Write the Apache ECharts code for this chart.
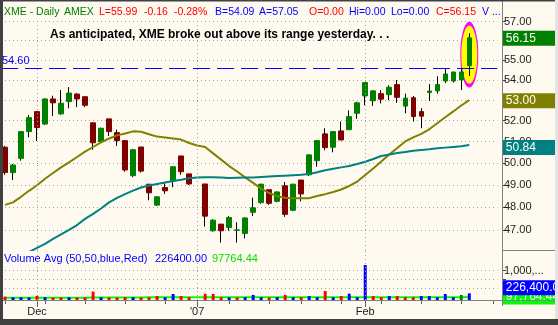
<!DOCTYPE html>
<html><head><meta charset="utf-8">
<script src="https://cdn.jsdelivr.net/npm/echarts@6/dist/echarts.min.js"></script>
<style>html,body{margin:0;padding:0;background:#fffaf0}#c{width:558px;height:325px}</style>
</head><body><div id="c"></div>
<script>
// ---- data ----
const dates = [
'2006-11-27','2006-11-28','2006-11-29','2006-11-30','2006-12-01',
'2006-12-04','2006-12-05','2006-12-06','2006-12-07','2006-12-08',
'2006-12-11','2006-12-12','2006-12-13','2006-12-14','2006-12-15',
'2006-12-18','2006-12-19','2006-12-20','2006-12-21','2006-12-22',
'2006-12-26','2006-12-27','2006-12-28','2006-12-29',
'2007-01-02','2007-01-03','2007-01-04','2007-01-05',
'2007-01-08','2007-01-09','2007-01-10','2007-01-11','2007-01-12',
'2007-01-16','2007-01-17','2007-01-18','2007-01-19',
'2007-01-22','2007-01-23','2007-01-24','2007-01-25','2007-01-26',
'2007-01-29','2007-01-30','2007-01-31',
'2007-02-01','2007-02-02',
'2007-02-05','2007-02-06','2007-02-07','2007-02-08','2007-02-09',
'2007-02-12','2007-02-13','2007-02-14','2007-02-15','2007-02-16',
'2007-02-20','2007-02-21','2007-02-22','2007-02-23','2007-02-26'];

const opens = [50.74,49.56,50.22,51.48,52.44,51.84,53.06,52.33,52.93,53.30,
 53.17,51.90,51.00,52.09,51.43,51.05,49.42,50.75,49.03,48.09,
 48.88,49.17,50.33,49.50,null,49.04,46.96,47.25,47.10,46.98,
 46.84,47.77,48.20,48.78,48.26,48.96,47.86,49.22,49.46,50.11,
 51.37,50.74,51.51,51.57,52.36,53.21,52.97,53.32,53.27,53.77,
 52.71,53.12,52.44,53.38,53.46,53.95,53.95,54.00,54.72];
const closes = [49.56,49.91,51.48,52.15,51.67,53.06,52.87,52.85,53.35,53.06,
 52.75,50.95,51.64,51.48,51.05,49.68,50.62,49.63,48.64,48.46,
 48.73,49.83,49.60,49.04,null,47.60,47.42,46.96,47.54,47.00,
 47.52,47.97,49.03,48.17,48.68,47.68,49.03,48.59,50.38,51.05,
 50.72,51.48,51.08,52.20,52.87,53.87,53.46,53.05,53.64,53.14,
 53.10,52.20,52.22,53.45,53.77,54.30,54.40,54.40,56.15];
const lows = [49.46,49.22,50.11,51.21,51.03,51.80,52.23,52.29,52.60,52.66,
 52.66,50.62,50.95,51.27,50.80,49.60,49.35,49.56,48.31,48.05,
 48.59,48.89,49.46,49.00,null,47.14,46.92,46.45,46.96,46.45,
 46.63,47.60,48.15,48.10,48.22,47.57,47.82,48.26,49.40,49.83,
 50.60,50.50,51.08,51.57,52.09,52.75,52.72,52.84,53.00,52.87,
 52.36,51.96,51.64,52.96,53.32,53.85,53.87,53.50,54.20];
const highs = [50.80,49.95,51.50,52.28,52.46,53.08,53.22,53.50,53.65,53.35,
 53.17,51.90,51.66,52.09,51.57,51.05,50.66,50.75,49.03,48.49,
 49.13,49.85,50.33,49.50,null,49.04,47.47,47.25,47.60,47.33,
 47.55,48.42,49.05,48.78,48.70,49.13,49.05,49.22,50.40,51.08,
 51.64,51.50,51.96,52.50,52.92,53.88,53.48,53.50,53.74,54.00,
 53.32,53.21,52.61,53.80,54.19,54.55,54.42,54.54,56.39];

const sma20 = [48.10,48.21,48.46,48.73,48.98,49.28,49.54,49.80,50.03,50.28,
 50.53,50.75,50.97,51.15,51.30,51.39,51.49,51.47,51.35,51.24,
 51.20,51.15,51.10,50.94,50.82,50.75,50.45,50.16,49.86,49.61,
 49.34,49.09,48.83,48.63,48.49,48.42,48.40,48.40,48.40,48.50,
 48.58,48.68,48.79,48.95,49.15,49.45,49.75,50.07,50.40,50.70,
 51.01,51.20,51.37,51.59,51.88,52.17,52.45,52.74,53.00];
const sma50 = [null,null,null,46.04,46.22,46.39,46.61,46.80,47.00,47.21,
 47.48,47.70,47.94,48.21,48.41,48.58,48.74,48.88,48.97,49.04,
 49.11,49.18,49.23,49.30,49.34,49.35,49.35,49.33,49.31,49.32,
 49.33,49.34,49.36,49.38,49.40,49.42,49.44,49.46,49.50,49.58,
 49.67,49.74,49.80,49.86,49.96,50.06,50.19,50.33,50.40,50.47,
 50.52,50.57,50.61,50.64,50.69,50.72,50.75,50.78,50.84];

const volumes = [115000,90000,95000,88000,140000,92000,85000,90000,95000,88000,
 92000,285000,95000,90000,85000,100000,95000,88000,92000,135000,
 90000,205000,135000,95000,null,210000,205000,95000,90000,88000,
 95000,170000,92000,88000,95000,170000,92000,95000,135000,95000,
 305000,92000,135000,215000,95000,1190000,135000,95000,135000,135000,
 95000,92000,135000,135000,95000,205000,95000,170000,226400];
const volAvg = [76000,76000,75000,75000,76000,76000,75000,75000,76000,76000,
 76000,88000,88000,88000,88000,89000,89000,89000,90000,90000,
 90000,91000,91000,91000,92000,92000,92000,92000,92000,92000,
 92000,93000,93000,93000,93000,93000,93000,94000,94000,94000,
 95000,95000,95000,96000,96000,96000,96000,96000,96000,97000,
 97000,97000,97000,97000,97000,97000,97500,97700,97764.44];

const priceTicks = [47,48,49,50,51,52,53,54,55,56,57];
const volumeTicks = [400000,700000,1000000];
const volumeLabelTicks = [400000,1000000];
const monthLabels = ['Dec', "'07", 'Feb'];
const breakoutLevel = 54.60;

// ---- derived ----
const FONT = 'Liberation Sans';
const N = dates.length;
const monthStarts = [];
const weekStarts = [];
for (let i = 0; i < N; i++) {
  const d = new Date(dates[i] + 'T00:00:00Z');
  if (i === 0) { weekStarts.push(i); continue; }
  const p = new Date(dates[i-1] + 'T00:00:00Z');
  if (d.getUTCMonth() !== p.getUTCMonth()) monthStarts.push(i);
  if (d.getUTCDay() <= p.getUTCDay()) weekStarts.push(i);
}
const wickData = dates.map((d,i) => opens[i] == null ? ['-','-','-','-'] : [opens[i], closes[i], lows[i], highs[i]]);
const bodyData = dates.map((d,i) => opens[i] == null ? ['-','-','-','-'] :
  [opens[i], closes[i], Math.min(opens[i], closes[i]), Math.max(opens[i], closes[i])]);
function volColor(i) {
  let prev = null;
  for (let j = i - 1; j >= 0; j--) if (closes[j] != null) { prev = closes[j]; break; }
  if (prev == null) return closes[i] < opens[i] ? '#ff0000' : '#0000ff';
  if (closes[i] > prev) return '#0000ff';
  if (closes[i] < prev) return '#ff0000';
  return '#008000';
}
const volData = volumes.map((v,i) => v == null ? '-' : ({value: v, itemStyle: {color: volColor(i)}}));
const last = closes.length - 1;
const lastCat = dates[last];
const fmtNum = (v, d) => v.toLocaleString('en-US', {minimumFractionDigits: d, maximumFractionDigits: d});

const dotted = {color: '#a0a0a0', type: [1, 3], width: 1};
const vLine = i => ({xAxis: dates[i], lineStyle: dotted, label: {show: false}});
function boxLabel(value, text, bg, fg, dy) {
  return {
    yAxis: value, lineStyle: {color: 'rgba(0,0,0,0)', width: 0},
    label: {show: true, position: 'end', distance: 5.5, formatter: text, opacity: 1,
      backgroundColor: bg, color: fg, fontSize: 12, fontFamily: FONT,
      padding: [1, 3, 1, 3], lineHeight: 13, width: 60, offset: [0, dy || 0]}
  };
}

const gridL = 1, slotW = 8.005, gridW = 62 * slotW;

const chart = echarts.init(document.getElementById('c'), null, {renderer: 'canvas'});
const option = {
  animation: false,
  backgroundColor: '#fffaf0',
  grid: [
    {left: gridL, top: 19, width: gridW, height: 231, outerBoundsMode: 'none', containLabel: false},
    {left: gridL, top: 250, width: gridW, height: 50, outerBoundsMode: 'none', containLabel: false}
  ],
  xAxis: [
    {type: 'category', gridIndex: 0, data: dates, show: false},
    {type: 'category', gridIndex: 1, data: dates, position: 'bottom',
      axisLine: {show: false},
      axisTick: {show: true, alignWithLabel: true, length: 4, lineStyle: {color: '#606060'},
        interval: (idx) => weekStarts.indexOf(idx) >= 0},
      axisLabel: {show: true, interval: (idx) => monthStarts.indexOf(idx) >= 0,
        formatter: (val, idx) => { const k = monthStarts.indexOf(idx); return k >= 0 ? monthLabels[k] : ''; },
        color: '#222', fontSize: 11, fontFamily: FONT, margin: 6},
      splitLine: {show: false}},
    {type: 'category', gridIndex: 1, data: dates, position: 'bottom',
      axisLine: {show: false},
      axisTick: {show: true, alignWithLabel: true, length: 7, lineStyle: {color: '#606060'},
        interval: (idx) => monthStarts.indexOf(idx) >= 0},
      axisLabel: {show: false}, splitLine: {show: false}}
  ],
  yAxis: [
    {type: 'log', logBase: 10, gridIndex: 0, position: 'right', offset: 502 - (gridL + gridW),
      min: 46.13, max: 57.14,
      axisLine: {show: false},
      axisTick: {show: true, customValues: priceTicks, length: 4, lineStyle: {color: '#404040'}},
      axisLabel: {show: true, customValues: priceTicks, formatter: v => Number(v).toFixed(2),
        color: '#222', fontSize: 11, fontFamily: FONT, margin: 2},
      splitLine: {show: true, lineStyle: dotted}},
    {type: 'value', gridIndex: 1, position: 'right', offset: 502 - (gridL + gridW),
      min: 0, max: 1700000,
      axisLine: {show: false},
      axisTick: {show: true, customValues: volumeTicks, length: 4, lineStyle: {color: '#404040'}},
      axisLabel: {show: true, customValues: volumeLabelTicks, formatter: v => fmtNum(v, 0),
        color: '#222', fontSize: 11, fontFamily: FONT, margin: 2,
        width: 44, overflow: 'truncate', ellipsis: '...'},
      splitLine: {show: true, lineStyle: dotted}}
  ],
  series: [
    {type: 'candlestick', name: 'wicks', xAxisIndex: 0, yAxisIndex: 0, data: wickData,
      barWidth: 1, z: 2,
      itemStyle: {color: '#000', color0: '#000', borderColor: '#000', borderColor0: '#000', borderColorDoji: '#000', borderWidth: 1},
      markPoint: {z: 1, silent: true, symbol: 'circle', symbolSize: [17, 62],
        label: {show: false},
        itemStyle: {color: '#ffff00', borderColor: '#ff00ff', borderWidth: 2},
        data: [{coord: [lastCat, Math.sqrt(highs[last] * lows[last])]}]}
    },
    {type: 'candlestick', name: 'XME', xAxisIndex: 0, yAxisIndex: 0, data: bodyData,
      barWidth: 5, z: 3,
      itemStyle: {color: '#008000', color0: '#800000', borderColor: '#008000', borderColor0: '#800000', borderColorDoji: '#008000', borderWidth: 1},
      markLine: {silent: true, symbol: ['none', 'none'], z: 5,
        data: [
          ...monthStarts.map(vLine),
          {yAxis: breakoutLevel, lineStyle: {color: '#0000ff', type: [17, 7], width: 1},
            label: {show: true, position: 'insideStartTop', formatter: breakoutLevel.toFixed(2),
              color: '#0000ff', fontSize: 11, fontFamily: FONT, distance: [1, 2]}},
          boxLabel(closes[last], closes[last].toFixed(2), '#008000', '#ffffff', 0.5)
        ]}
    },
    {type: 'line', name: 'SMA20', xAxisIndex: 0, yAxisIndex: 0, data: sma20, symbol: 'none', z: 4,
      lineStyle: {color: '#808000', width: 2},
      markLine: {silent: true, symbol: ['none', 'none'], z: 6,
        data: [boxLabel(sma20[last], sma20[last].toFixed(2), '#808000', '#ffffff', 0.5)]}},
    {type: 'line', name: 'SMA50', xAxisIndex: 0, yAxisIndex: 0, data: sma50, symbol: 'none', z: 4,
      lineStyle: {color: '#008080', width: 2},
      markLine: {silent: true, symbol: ['none', 'none'], z: 6,
        data: [boxLabel(sma50[last], sma50[last].toFixed(2), '#008080', '#ffffff', 2.5)]}},
    {type: 'line', name: 'VolAvg', xAxisIndex: 1, yAxisIndex: 1, data: volAvg, symbol: 'none', z: 2,
      lineStyle: {color: '#00ff00', width: 2},
      markLine: {silent: true, symbol: ['none', 'none'], z: 6,
        data: [boxLabel(volAvg[last], fmtNum(volAvg[last], 2), '#00ff00', '#ffffff', 0)]}},
    {type: 'bar', name: 'Volume', xAxisIndex: 1, yAxisIndex: 1, data: volData, barWidth: 3, z: 3,
      markLine: {silent: true, symbol: ['none', 'none'], z: 7,
        data: [
          ...monthStarts.map(vLine),
          boxLabel(volumes[last], fmtNum(volumes[last], 2), '#0000ff', '#ffffff', -5.5)
        ]}}
  ],
  graphic: [
    // frame
    {type: 'rect', shape: {x: 0, y: 0, width: 3, height: 325}, style: {fill: '#404040'}, z: 200, silent: true},
    {type: 'rect', shape: {x: 0, y: 0, width: 558, height: 1.5}, style: {fill: '#404040'}, z: 200, silent: true},
    {type: 'rect', shape: {x: 0, y: 319, width: 558, height: 6}, style: {fill: '#404040'}, z: 200, silent: true},
    {type: 'rect', shape: {x: 555, y: 0, width: 3, height: 319}, style: {fill: '#e4e4e4'}, z: 200, silent: true},
    {type: 'line', shape: {x1: 502.5, y1: 0, x2: 502.5, y2: 306}, style: {stroke: '#808080', lineWidth: 1}, z: 150, silent: true},
    {type: 'line', shape: {x1: 0, y1: 300.5, x2: 555, y2: 300.5}, style: {stroke: '#808080', lineWidth: 1}, z: 150, silent: true},
    {type: 'line', shape: {x1: 502, y1: 250.5, x2: 555, y2: 250.5}, style: {stroke: '#808080', lineWidth: 1}, z: 150, silent: true},
    // header
    ...[
      ['XME - Daily', 4, '#008000'], ['AMEX', 64, '#008000'], ['L=55.99', 99, '#ff0000'],
      ['-0.16', 144, '#ff0000'], ['-0.28%', 174, '#ff0000'], ['B=54.09', 215, '#0000ff'],
      ['A=57.05', 259, '#0000ff'], ['O=0.00', 309, '#ff0000'], ['Hi=0.00', 349, '#0000ff'],
      ['Lo=0.00', 391, '#0000ff'], ['C=56.15', 436, '#ff0000'], ['V ...', 482, '#0000ff']
    ].map(([t, x, c]) => ({type: 'text', x: x, y: 12.5, z: 100, silent: true,
      style: {text: t, fill: c, font: '10.5px "Liberation Sans"', verticalAlign: 'middle'}})),
    {type: 'text', x: 50, y: 35, z: 100, silent: true,
      style: {text: 'As anticipated, XME broke out above its range yesterday. . .', fill: '#000',
        font: 'bold 12px "Liberation Sans"', verticalAlign: 'middle'}},
    ...[
      ['Volume Avg (50,50,blue,Red)', 4, '#0000ff'], ['226400.00', 155, '#0000ff'], ['97764.44', 212, '#00e000']
    ].map(([t, x, c]) => ({type: 'text', x: x, y: 259, z: 100, silent: true,
      style: {text: t, fill: c, font: '11px "Liberation Sans"', verticalAlign: 'middle'}}))
  ]
};
chart.setOption(option);
</script>
</body></html>
